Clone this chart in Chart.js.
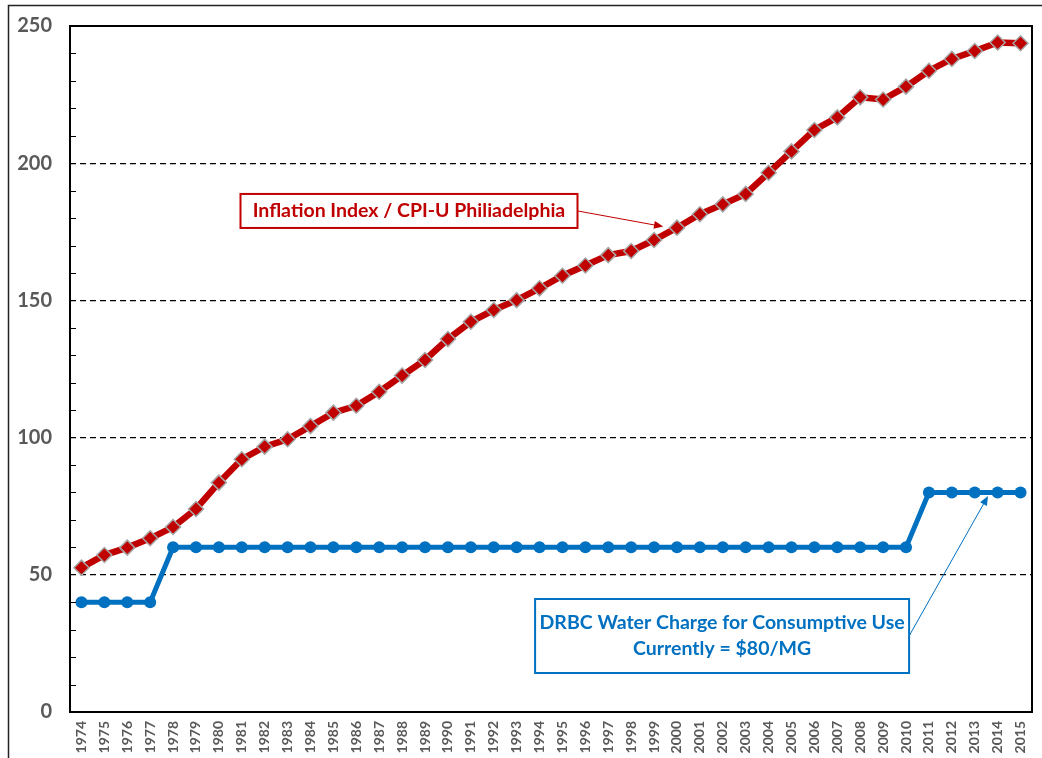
<!DOCTYPE html>
<html>
<head>
<meta charset="utf-8">
<script src="https://cdn.jsdelivr.net/npm/chart.js@4.4.1/dist/chart.umd.min.js"></script>
<style>
  html, body { margin: 0; padding: 0; background: #fff; }
  #wrap { width: 1042px; height: 758px; position: relative; }
</style>
</head>
<body>
<div id="wrap"><canvas id="chart" width="1042" height="758"></canvas></div>
<script>
// categories
const years = ["1974", "1975", "1976", "1977", "1978", "1979", "1980", "1981", "1982", "1983",
  "1984", "1985", "1986", "1987", "1988", "1989", "1990", "1991", "1992", "1993",
  "1994", "1995", "1996", "1997", "1998", "1999", "2000", "2001", "2002", "2003",
  "2004", "2005", "2006", "2007", "2008", "2009", "2010", "2011", "2012", "2013",
  "2014", "2015"];

// CPI-U Philadelphia
const cpiValues = [52.6, 57.2, 59.9, 63.3, 67.4, 74.0, 83.6, 92.1, 96.7, 99.4,
  104.2, 109.1, 111.6, 116.7, 122.6, 128.3, 135.9, 142.2, 146.5, 150.1,
  154.4, 159.0, 162.7, 166.5, 168.0, 172.0, 176.5, 181.4, 185.0, 188.8,
  196.5, 204.3, 212.1, 216.7, 224.0, 223.2, 227.9, 233.7, 238.0, 240.9,
  244.0, 243.7];

// DRBC water charge ($/MG)
const drbcValues = [40, 40, 40, 40, 60, 60, 60, 60, 60, 60,
  60, 60, 60, 60, 60, 60, 60, 60, 60, 60,
  60, 60, 60, 60, 60, 60, 60, 60, 60, 60,
  60, 60, 60, 60, 60, 60, 60, 80, 80, 80,
  80, 80];

const yTickLabels = [0, 50, 100, 150, 200, 250];

const RED = "#C00000";
const BLUE = "#0070C0";
const GREY = "#595959";
const FONT = "Lato, 'Open Sans', sans-serif";

// callout boxes, placed in data units (index on x, value on y)
const callouts = [
  {
    lines: ["Inflation Index / CPI-U Philiadelphia"],
    color: RED, cx: 14.3, cy: 182.6, w: 337, h: 34,
    to: { x: 25.4, y: 176.9 }
  },
  {
    lines: ["DRBC Water Charge for Consumptive Use", "Currently = $80/MG"],
    color: BLUE, cx: 27.97, cy: 27.7, w: 374, h: 74,
    to: { x: 39.58, y: 78.7 }
  }
];

function arrow(ctx, x1, y1, x2, y2, color) {
  const ang = Math.atan2(y2 - y1, x2 - x1);
  const len = 10;
  ctx.save();
  ctx.strokeStyle = color;
  ctx.fillStyle = color;
  ctx.lineWidth = 1;
  ctx.beginPath();
  ctx.moveTo(x1, y1);
  ctx.lineTo(x2 - Math.cos(ang) * len * 0.8, y2 - Math.sin(ang) * len * 0.8);
  ctx.stroke();
  ctx.beginPath();
  ctx.moveTo(x2, y2);
  ctx.lineTo(x2 - len * Math.cos(ang - 0.4), y2 - len * Math.sin(ang - 0.4));
  ctx.lineTo(x2 - len * Math.cos(ang + 0.4), y2 - len * Math.sin(ang + 0.4));
  ctx.closePath();
  ctx.fill();
  ctx.restore();
}

const decorPlugin = {
  id: "decor",
  beforeDraw(chart) {
    const ctx = chart.ctx;
    ctx.save();
    ctx.fillStyle = "#fff";
    ctx.fillRect(0, 0, chart.width, chart.height);
    // outer frame (only left and top show)
    ctx.strokeStyle = "#222";
    ctx.lineWidth = 1.5;
    ctx.beginPath();
    ctx.moveTo(8.5, chart.height);
    ctx.lineTo(8.5, 5.5);
    ctx.lineTo(chart.width, 5.5);
    ctx.stroke();
    ctx.restore();
  },
  afterDraw(chart) {
    const ctx = chart.ctx;
    const a = chart.chartArea;
    const xs = chart.scales.x;
    const ys = chart.scales.y;
    ctx.save();
    // minor tick marks on left axis
    ctx.strokeStyle = "#000";
    ctx.lineWidth = 1;
    for (let v = 10; v < 250; v += 10) {
      if (v % 50 === 0) continue;
      const y = Math.round(ys.getPixelForValue(v)) + 0.5;
      ctx.beginPath();
      ctx.moveTo(a.left, y);
      ctx.lineTo(a.left + 6, y);
      ctx.stroke();
    }
    // plot frame
    ctx.lineWidth = 2;
    ctx.strokeRect(a.left, a.top, a.right - a.left, a.bottom - a.top);

    // callouts
    callouts.forEach((c) => {
      const cx = xs.getPixelForValue(c.cx);
      const cy = ys.getPixelForValue(c.cy);
      const left = cx - c.w / 2;
      const top = cy - c.h / 2;
      ctx.fillStyle = "#fff";
      ctx.fillRect(left, top, c.w, c.h);
      ctx.strokeStyle = c.color;
      ctx.lineWidth = 2;
      ctx.strokeRect(left, top, c.w, c.h);
      ctx.fillStyle = c.color;
      ctx.font = "bold 19.5px " + FONT;
      ctx.textAlign = "center";
      ctx.textBaseline = "middle";
      const lh = 26;
      c.lines.forEach((t, i) => {
        const ty = cy + (i - (c.lines.length - 1) / 2) * lh;
        ctx.fillText(t, cx, ty);
      });
      const tx = xs.getPixelForValue(c.to.x);
      const ty = ys.getPixelForValue(c.to.y);
      arrow(ctx, left + c.w, cy, tx, ty, c.color);
    });
    ctx.restore();
  }
};

new Chart(document.getElementById("chart"), {
  type: "line",
  data: {
    labels: years,
    datasets: [
      {
        label: "DRBC Water Charge",
        data: drbcValues,
        borderColor: BLUE,
        backgroundColor: BLUE,
        borderWidth: 5,
        pointStyle: "circle",
        pointRadius: 6,
        pointBackgroundColor: BLUE,
        pointBorderColor: BLUE,
        pointBorderWidth: 0,
        tension: 0,
      },
      {
        label: "CPI-U Philadelphia",
        data: cpiValues,
        borderColor: RED,
        backgroundColor: RED,
        borderWidth: 6.5,
        pointStyle: "rectRot",
        pointRadius: 7.5,
        pointBackgroundColor: RED,
        pointBorderColor: "#a6a6a6",
        pointBorderWidth: 1.5,
        tension: 0,
      },
    ],
  },
  options: {
    responsive: false,
    animation: false,
    layout: { padding: { top: 26, right: 10, left: 0, bottom: 0 } },
    plugins: {
      legend: { display: false },
      tooltip: { enabled: false },
    },
    scales: {
      x: {
        type: "category",
        offset: true,
        grid: { display: false, drawTicks: false },
        border: { display: false },
        ticks: {
          color: GREY,
          font: { family: FONT, size: 14, weight: "bold" },
          maxRotation: 90,
          minRotation: 90,
          autoSkip: false,
          padding: 9,
        },
        afterFit(scale) {
          scale.height = 46;
          scale.paddingLeft = 0;
          scale.paddingRight = 0;
        },
      },
      y: {
        min: 0,
        max: 250,
        border: { display: false, dash: [6, 4] },
        grid: {
          drawTicks: false,
          lineWidth: 1.3,
          color: (ctx) => {
            const v = ctx.tick ? ctx.tick.value : null;
            return v > 0 && v < 250 && v % 50 === 0 ? "#000" : "rgba(0,0,0,0)";
          },
        },
        ticks: {
          stepSize: 10,
          color: GREY,
          font: { family: FONT, size: 20, weight: "bold" },
          padding: 18,
          callback: (v) => (yTickLabels.includes(v) ? v : ""),
        },
        afterFit(scale) {
          scale.width = 70;
          scale.paddingTop = 0;
          scale.paddingBottom = 0;
        },
      },
    },
  },
  plugins: [decorPlugin],
});
</script>
</body>
</html>
